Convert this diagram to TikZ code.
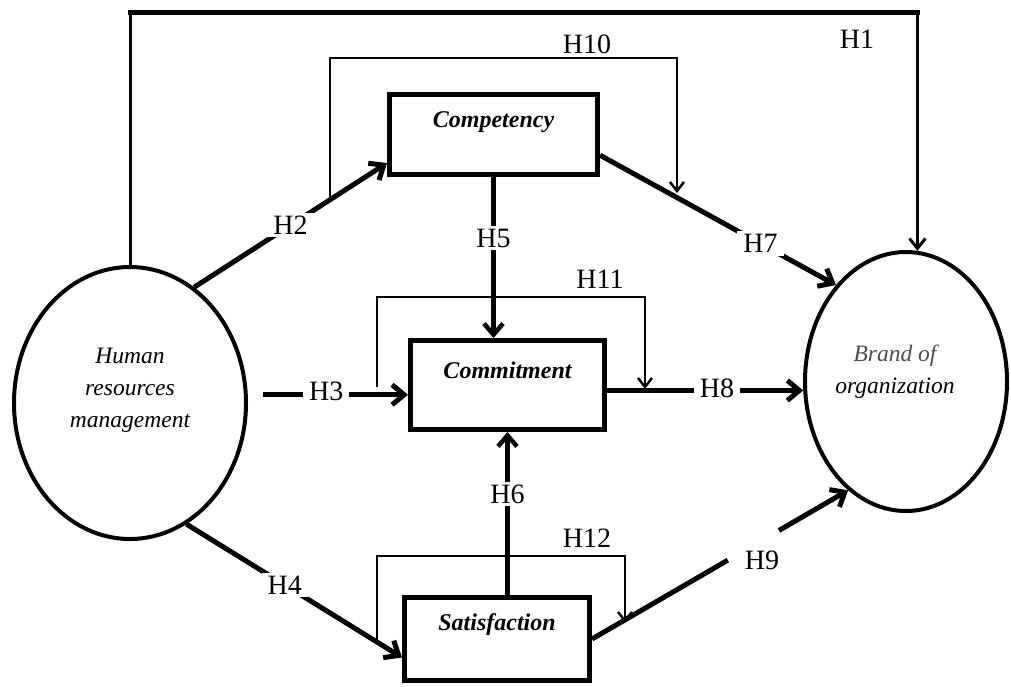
\documentclass[tikz,border=0pt]{standalone}
\usepackage{fontspec}
\setmainfont{Liberation Serif}
\usetikzlibrary{arrows.meta,shapes.geometric,calc}
\tikzset{
  ell/.style={draw, ellipse, line width=4pt, inner sep=0pt},
  box/.style={draw, rectangle, line width=5pt, inner sep=0pt},
  boxtxt/.style={font=\fontsize{24}{28}\selectfont\bfseries\itshape},
  elltxt/.style={font=\fontsize{23.5}{32}\selectfont\itshape, align=center},
  hlab/.style={font=\fontsize{28}{32}\selectfont, fill=white, inner xsep=6pt, inner ysep=3pt},
  freelab/.style={font=\fontsize{28}{32}\selectfont, inner sep=0pt},
  thickline/.style={line width=5pt},
  thickarr/.style={line width=5pt, -{Straight Barb[length=12pt,width=20pt]}},
  midarr/.style={line width=4.5pt, -{Straight Barb[length=11pt,width=19pt]}},
  brk/.style={line width=2.5pt, -{Straight Barb[length=9pt,width=14pt]}},
}
\begin{document}
\begin{tikzpicture}[x=1pt,y=-1pt]
\useasboundingbox (0,0) rectangle (1011,686);

% ellipses
\node[ell, minimum width=232pt, minimum height=272pt,
  label={[elltxt, yshift=13pt]center:{Human\\resources\\management}}] (hrm) at (130,403) {};
\node[ell, minimum width=202pt, minimum height=259pt,
  label={[elltxt, xshift=-11pt, yshift=10pt]center:{\textcolor{black!70}{Brand of}\\organization}}] (brand) at (906,381.5) {};

% boxes
\node[box, minimum width=208pt, minimum height=80pt,
  label={[boxtxt, yshift=12.5pt]center:Competency}] (comp) at (493.5,134.5) {};
\node[box, minimum width=194pt, minimum height=89pt,
  label={[boxtxt, yshift=15pt]center:Commitment}] (comm) at (507.5,385) {};
\node[box, minimum width=185pt, minimum height=83pt,
  label={[boxtxt, yshift=14pt]center:Satisfaction}] (sat) at (497,639) {};

% H1
\coordinate (h1top) at (500,12);
\draw[line width=3pt] (hrm.north) -- (hrm.north |- h1top);
\draw[line width=5pt, line cap=rect] (hrm.north |- h1top) -- (brand.85 |- h1top);
\draw[line width=3pt, -{Straight Barb[length=10pt,width=16pt]}] (brand.85 |- h1top) -- (brand.85);
\node[freelab] (l1) at (857,39) {H1};

% main paths
\draw[thickarr] (hrm.61) -- node[hlab, pos=0.5] (l2) {H2} (comp.195);
\draw[thickarr, shorten <=15pt] (hrm.4) -- node[hlab, pos=0.49, yshift=3pt] (l3) {H3} (hrm.4 -| comm.west);
\draw[thickarr] (hrm.-65) -- node[hlab, pos=0.456] (l4) {H4} (sat.191);
\draw[midarr] (comp.south) -- node[hlab, pos=0.38] (l5) {H5} (comp.south |- comm.north);
\draw[midarr] (sat.north -| comm.south) -- node[hlab, pos=0.62] (l6) {H6} (comm.south);
\draw[thickarr] (comp.-11) -- node[hlab, pos=0.68] (l7) {H7} (brand.126);
\draw[thickarr] (brand.185 -| comm.east) -- node[hlab, pos=0.56, yshift=2pt] (l8) {H8} (brand.185);
\draw[thickline] (sat.east) -- ($(sat.east)!0.53!(brand.242)$);
\draw[thickarr] ($(sat.east)!0.73!(brand.242)$) -- (brand.242);
\node[freelab] (l9) at (762,560) {H9};

% moderating brackets
\coordinate (b10a) at (330,198);
\coordinate (b10b) at (677,193);
\coordinate (b10t) at (0,58);
\draw[brk] (b10a) -- (b10a |- b10t) -- (b10b |- b10t) -- (b10b);
\node[freelab] (l10) at (587,44) {H10};

\coordinate (b11a) at (377,387);
\coordinate (b11b) at (645,389);
\coordinate (b11t) at (0,297);
\draw[brk] (b11a) -- (b11a |- b11t) -- (b11b |- b11t) -- (b11b);
\node[freelab] (l11) at (600,279) {H11};

\coordinate (b12a) at (377,641);
\coordinate (b12b) at (625,623);
\coordinate (b12t) at (0,556);
\draw[brk] (b12a) -- (b12a |- b12t) -- (b12b |- b12t) -- (b12b);
\node[freelab] (l12) at (587,538) {H12};
\end{tikzpicture}
\end{document}
